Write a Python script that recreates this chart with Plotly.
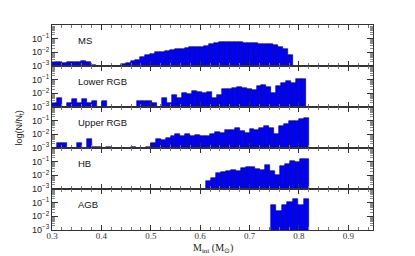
import plotly.graph_objects as go
from plotly.subplots import make_subplots

# ---- data: log10(N/N_t) per mass bin (None = empty bin) ----
panel_names = ["MS", "Lower RGB", "Upper RGB", "HB", "AGB"]

ms_start, ms_width = 0.300, 0.00994
ms_log = [-2.71, -2.71, -2.78, -2.71, -2.71, -2.74, -2.63, -2.74, -2.93,
          None, None, None, None, None,
          -2.88, -2.80, -2.63, -2.59, -2.34, -2.24, -2.15, -2.02, -1.98, -1.90,
          -1.85, -1.80, -1.76, -1.68, -1.63, -1.61,
          -1.59, -1.54, -1.41, -1.29, -1.22, -1.22, -1.24, -1.27, -1.27, -1.29,
          -1.32, -1.32, -1.37, -1.39, -1.41, -1.46, -1.59, -1.78, -2.24]

lrgb_start, lrgb_width = 0.300, 0.0101
lrgb_log = [-2.76, -2.34, None, -2.76, -2.44, -2.76, -2.44, -2.76, -2.56, None,
            -2.56, None, None, None, None, None, None,
            -2.56, -2.56, -2.56, -2.73, None,
            -2.39, -2.73, -2.10, -2.39, -2.02, -2.07, -1.85, -1.95, -2.00, -1.95,
            -2.34, -2.15,
            -1.66, -1.68, -1.59, -1.56, -1.59, -1.68, -1.76, -1.44, -1.39, -1.54,
            -2.00, -1.46, -1.24, -1.10, -1.24, -0.93, -0.98]

urgb_start, urgb_width = 0.300, 0.0100
urgb_log = [None, -2.66, -2.66, None, None, -2.66, None, -2.35, -2.97, -2.97,
            None, -2.97, None, None, None, None, -2.97, None, None, -2.97,
            -2.68, -2.34, -2.46, -2.29, -2.10, -2.02, -2.10, -2.02, -2.15, -2.07,
            -2.15, -2.10, -2.02, -1.85, -1.88, -1.66, -1.73, -1.56, -1.78, -1.90,
            -1.63, -1.68, -1.51, -1.37, -1.56, -2.02, -1.41, -1.22, -1.02, -1.02,
            -0.88, -0.83]

hb_start, hb_width = 0.6125, 0.00993
hb_log = [-2.44, -2.24, -1.85, -1.76, -1.68, -1.63, -1.73, -1.44, -1.39, -1.39,
          -1.51, -1.61, -1.27, -1.71, -2.02, -1.34, -1.17, -0.98, -1.05, -0.83,
          -0.83]

agb_start, agb_width = 0.743, 0.0111
agb_log = [-1.15, -1.59, -1.15, -0.93, -0.71, -1.15, -0.71]

ytick_vals = [1e-3, 1e-2, 1e-1]
ytick_text = ["10<sup>−3</sup>", "10<sup>−2</sup>", "10<sup>−1</sup>"]

panels = [
    (panel_names[0], ms_start, ms_width, ms_log),
    (panel_names[1], lrgb_start, lrgb_width, lrgb_log),
    (panel_names[2], urgb_start, urgb_width, urgb_log),
    (panel_names[3], hb_start, hb_width, hb_log),
    (panel_names[4], agb_start, agb_width, agb_log),
]

fig = make_subplots(rows=5, cols=1, shared_xaxes=True, vertical_spacing=0)

AX = "#333333"
for i, (name, start, width, vals) in enumerate(panels):
    r = i + 1
    xs = [start + width * (j + 0.5) for j in range(len(vals))]
    ys = [10 ** v if v is not None else None for v in vals]
    fig.add_trace(go.Bar(x=xs, y=ys, width=width,
                         marker=dict(color="#0000ff",
                                     line=dict(color="#000066", width=0.6)),
                         showlegend=False), row=r, col=1)
    fig.update_yaxes(type="log", range=[-3.02, 0], tickvals=ytick_vals,
                     ticktext=ytick_text, ticks="inside", ticklen=6,
                     tickcolor=AX, tickwidth=1,
                     minor=dict(ticks="inside", ticklen=3, dtick="D1",
                                tickcolor="#8a8a8a", tickwidth=1),
                     showline=True, linecolor=AX, linewidth=1, mirror="ticks",
                     showgrid=False, zeroline=False,
                     tickfont=dict(family="Liberation Sans", size=9, color="#222"),
                     row=r, col=1)
    fig.update_xaxes(range=[0.3, 0.95], tick0=0.3, dtick=0.1, tickformat=".1f",
                     ticks="inside", ticklen=5, tickcolor=AX,
                     minor=dict(ticks="inside", ticklen=3, dtick=0.02,
                                tickcolor="#777"),
                     showline=True, linecolor=AX, linewidth=1, mirror="ticks",
                     showgrid=False, zeroline=False,
                     tickfont=dict(family="Liberation Serif", size=9, color="#333"),
                     row=r, col=1)
    suffix = "" if r == 1 else str(r)
    fig.add_annotation(text=name, xref=f"x{suffix} domain", yref=f"y{suffix} domain",
                       x=0.075, y=0.62, xanchor="left", yanchor="middle",
                       showarrow=False,
                       font=dict(family="Liberation Sans", size=9.5, color="#111"))

fig.update_xaxes(ticklabelstandoff=-3, row=5, col=1)

fig.add_annotation(text="log(N/N<sub>t</sub>)", xref="paper", yref="paper",
                   x=-0.10, y=0.5, textangle=-90, showarrow=False,
                   xanchor="center", yanchor="middle",
                   font=dict(family="Liberation Sans", size=9, color="#222"))
fig.add_annotation(text="M<sub>ini</sub> (M<sub>⊙</sub>)", xref="paper", yref="paper",
                   x=0.5, y=-0.088, showarrow=False, xanchor="center", yanchor="middle",
                   font=dict(family="Liberation Serif", size=10, color="#222"))

# page body adds an 8px offset, so the figure is sized/margined to compensate
fig.update_layout(width=407, height=248,
                  margin=dict(l=44, r=42, t=17, b=26),
                  paper_bgcolor="white", plot_bgcolor="white",
                  bargap=0, showlegend=False)

fig.write_html("out.html")
